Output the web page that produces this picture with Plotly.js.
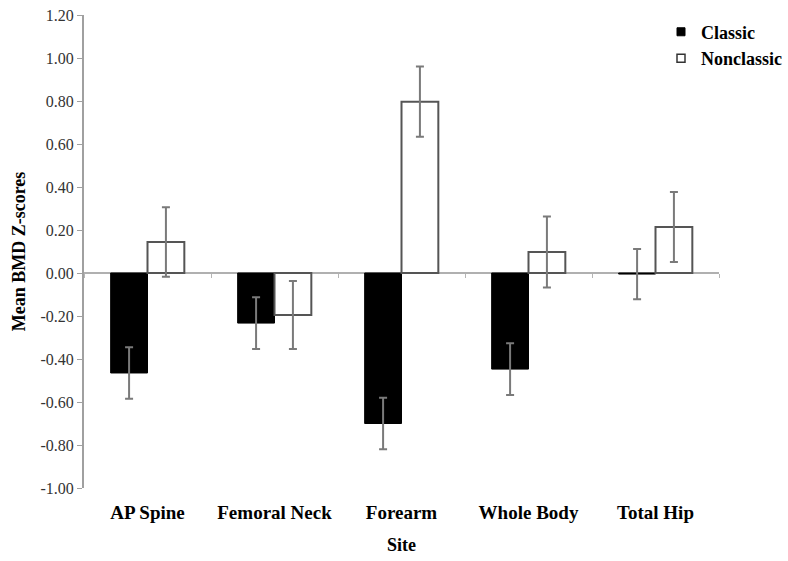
<!DOCTYPE html>
<html><head><meta charset="utf-8">
<script src="https://cdn.plot.ly/plotly-3.0.1.min.js"></script>
<style>body{margin:0;background:#fff}#c{width:788px;height:561px}</style>
</head><body><div id="c"></div>
<script>
const sites = ["AP Spine", "Femoral Neck", "Forearm", "Whole Body", "Total Hip"];
const classic = [-0.465, -0.233, -0.700, -0.447, -0.005];
const classicErr = [0.12, 0.12, 0.12, 0.12, 0.117];
const nonclassic = [0.144, -0.195, 0.797, 0.098, 0.214];
const nonclassicErr = [0.162, 0.158, 0.163, 0.165, 0.163];
const yTicks = [1.2, 1.0, 0.8, 0.6, 0.4, 0.2, 0, -0.2, -0.4, -0.6, -0.8, -1.0];
const yMin = -1.0, yMax = 1.2;

const serif = "Liberation Serif, Times New Roman, serif";
const errStyle = {type: "data", visible: true, color: "#7a7a7a", thickness: 2, width: 4};
const xDomain = [0, 635 / 704];

const data = [
  {type: "bar", name: "Classic", x: sites, y: classic, showlegend: false,
   marker: {color: "#000000", line: {color: "#000000", width: 1}},
   error_y: Object.assign({array: classicErr}, errStyle)},
  {type: "bar", name: "Nonclassic", x: sites, y: nonclassic, showlegend: false,
   marker: {color: "#ffffff", line: {color: "#555555", width: 2}},
   error_y: Object.assign({array: nonclassicErr}, errStyle)},
  {type: "scatter", mode: "markers", name: "Classic", x: [null], y: [null],
   marker: {symbol: "square", size: 8, color: "#000", line: {color: "#000", width: 1}}},
  {type: "scatter", mode: "markers", name: "Nonclassic", x: [null], y: [null],
   marker: {symbol: "square", size: 8, color: "#fff", line: {color: "#333", width: 1.5}}},
  {type: "scatter", mode: "none", x: sites, y: sites.map(() => null), xaxis: "x2", showlegend: false, hoverinfo: "skip"}
];

const layout = {
  width: 788, height: 561,
  margin: {l: 84, r: 0, t: 15, b: 73},
  paper_bgcolor: "#fff", plot_bgcolor: "#fff",
  barmode: "group", bargap: 0.42, bargroupgap: 0,
  font: {family: serif, color: "#000"},
  showlegend: true,
  legend: {x: 1.0, y: 1.003, xanchor: "right", yanchor: "top",
    font: {family: serif, size: 18, color: "#000", weight: "bold"},
    bgcolor: "rgba(0,0,0,0)", itemwidth: 30, tracegroupgap: 0},
  xaxis: {
    type: "category", domain: xDomain, showline: false, showgrid: false, zeroline: false,
    ticks: "", ticklabelstandoff: 11,
    tickfont: {family: serif, size: 19, color: "#000", weight: "bold"},
    title: {text: "Site", font: {family: serif, size: 18, color: "#000", weight: "bold"}, standoff: 16}
  },
  xaxis2: {
    type: "category", domain: xDomain, overlaying: "x", matches: "x", anchor: "free",
    position: (0 - yMin) / (yMax - yMin), side: "bottom",
    showline: false, showgrid: false, zeroline: false, showticklabels: false,
    ticks: "outside", tickson: "boundaries", ticklen: 4, tickcolor: "#b5b5b5", tickwidth: 1
  },
  yaxis: {
    range: [yMin, yMax], tickvals: yTicks,
    ticktext: yTicks.map(v => v.toFixed(2)),
    showgrid: false, showline: true, linecolor: "#a0a0a0", linewidth: 2,
    ticks: "outside", ticklen: 5, tickcolor: "#a0a0a0", tickwidth: 1,
    zeroline: true, zerolinecolor: "#b0b0b0", zerolinewidth: 2,
    tickfont: {family: serif, size: 16, color: "#333"},
    title: {text: "Mean BMD Z-scores", font: {family: serif, size: 18, color: "#000", weight: "bold"}, standoff: 10}
  }
};

Plotly.newPlot("c", data, layout, {displayModeBar: false});
</script></body></html>
